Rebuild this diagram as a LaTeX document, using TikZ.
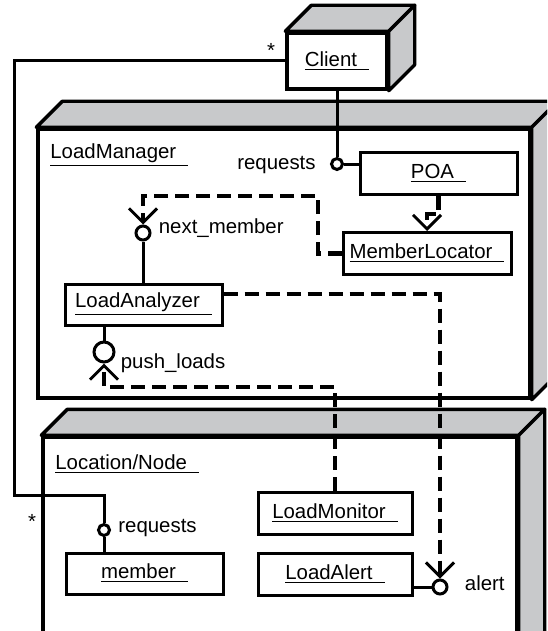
\documentclass[tikz,border=0pt]{standalone}
\usepackage{fontspec}
\setmainfont{Liberation Sans}
\usetikzlibrary{arrows.meta}
\definecolor{facegray}{RGB}{200,201,203}
\newcommand{\uname}[1]{\underline{#1\hspace{6pt}}}
\tikzset{
  cube/.style={draw, line width=1.7pt, fill=white, inner sep=0pt},
  face/.style={draw, line width=1.7pt, fill=facegray, line join=round},
  box/.style={draw, line width=1.5pt, fill=white, inner sep=0pt, minimum height=21pt},
  iface/.style={draw, circle, line width=1.5pt, fill=white, inner sep=0pt},
  wire/.style={line width=1.5pt},
  dep/.style={line width=2.1pt, dash pattern=on 7pt off 3.5pt,
    -{Straight Barb[length=7pt,width=14pt,line width=1.5pt]}}
}
\begin{document}
\begin{tikzpicture}[x=0.5pt,y=-0.5pt,font=\fontsize{10.2}{12}\selectfont]
  \useasboundingbox (0,0) rectangle (547,631);
  \clip (0,0) rectangle (547,631);
  % nodes
  \node[cube, minimum width=50pt, minimum height=28pt] (client) at (337,61) {\uname{Client}};
  \node[cube, minimum width=246pt, minimum height=134.5pt] (manager) at (284,263.5) {};
  \node[cube, minimum width=237pt, minimum height=111.5pt] (location) at (280,548.5) {};
  \foreach \n in {client,manager,location} {
    \draw[face] (\n.north west) -- ++(26,-26) -- ([shift={(26,-26)}]\n.north east) -- (\n.north east) -- cycle;
    \draw[face] (\n.north east) -- ++(26,-26) -- ([shift={(26,-26)}]\n.south east) -- (\n.south east) -- cycle;
  }
  \node[anchor=base west, inner sep=0pt] (managername) at (50,158) {\uname{LoadManager}};
  \node[anchor=base west, inner sep=0pt] (locationname) at (55,469) {\uname{Location/Node}};
  % components
  \node[box, minimum width=78.5pt] (poa) at (438.5,173.5) {\uname{POA}};
  \node[box, minimum width=84pt] (locator) at (427,253.5) {\uname{MemberLocator}};
  \node[box, minimum width=78.5pt, minimum height=20.5pt] (analyzer) at (143.5,304.5) {\uname{LoadAnalyzer}};
  \node[box, minimum width=77pt] (monitor) at (335,513) {\uname{LoadMonitor}};
  \node[box, minimum width=78.5pt, minimum height=20.5pt] (member) at (144.5,573.5) {\uname{member}};
  \node[box, minimum width=77pt] (loadalert) at (335,574) {\uname{LoadAlert}};
  % interfaces
  \node[iface, minimum size=5.5pt] (reqpoa) at (337,164) {};
  \node[iface, minimum size=7pt] (nextm) at (143,233) {};
  \node[iface, minimum size=10pt] (pushl) at (104,352) {};
  \node[iface, minimum size=5.5pt] (reqmem) at (104,530) {};
  \node[iface, minimum size=7pt] (alert) at (440,587) {};
  \node[anchor=base east, inner sep=0pt] (reqpoaname) at ([xshift=-7pt,yshift=-2.5pt]reqpoa.west) {requests};
  \node[anchor=base west, inner sep=0pt] (nextmname) at ([xshift=3.5pt]nextm.east) {next\_member};
  \node[anchor=base west, inner sep=0pt] (pushlname) at ([xshift=2.5pt,yshift=-8pt]pushl.east) {push\_loads};
  \node[anchor=base west, inner sep=0pt] (reqmemname) at ([xshift=3.5pt,yshift=-1pt]reqmem.east) {requests};
  \node[anchor=base west, inner sep=0pt] (alertname) at ([xshift=8pt,yshift=-1.5pt]alert.east) {alert};
  \node (starclient) at (271,50) {*};
  \node (starmember) at (32,521) {*};
  \coordinate (leftrun) at (14,495);
  \coordinate (nextturn) at (318,196);
  \coordinate (pushturn) at (104,387);
  % connectors
  \draw[wire] (client.south) -- (reqpoa.north);
  \draw[wire] (reqpoa.east) -- (reqpoa.east -| poa.west);
  \draw[wire] (client.west) -| (leftrun) -| (reqmem.north);
  \draw[wire] (reqmem.south) -- (reqmem.south |- member.north);
  \draw[wire] (nextm.south) -- (nextm.south |- analyzer.north);
  \draw[wire] (pushl.north |- analyzer.south) -- (pushl.north);
  \draw[wire] (alert.west -| loadalert.east) -- (alert.west);
  \draw[dep] (poa.south) -- ++(0,18) -| (locator.north);
  \draw[dep] (locator.west) -| (nextturn) -| (nextm.north);
  \draw[dep] ([yshift=5.25pt]analyzer.east) -| (alert.north);
  \draw[dep] (monitor.north) |- (pushturn) -- (pushl.south);
\end{tikzpicture}
\end{document}
